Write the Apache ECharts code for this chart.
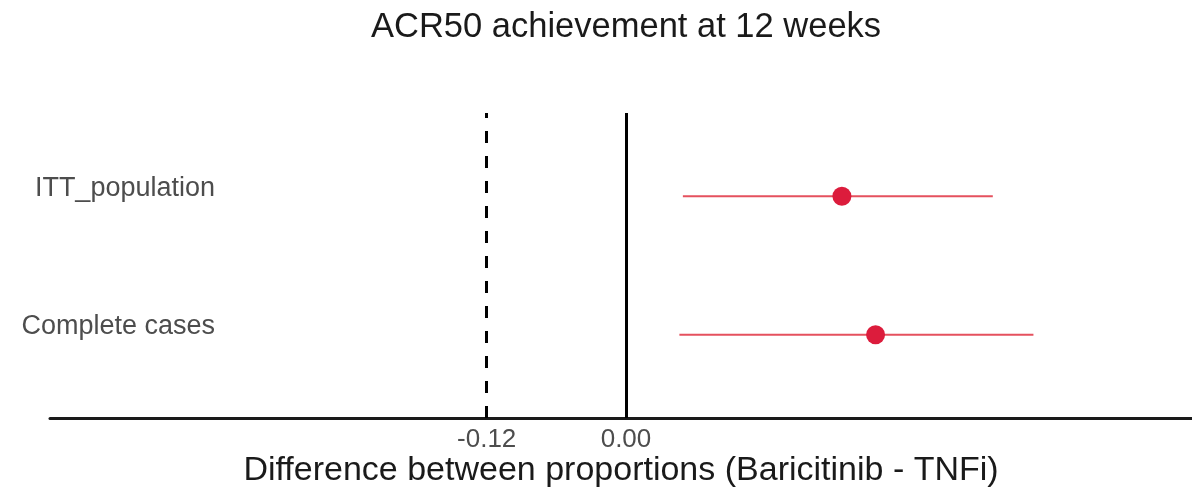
<!DOCTYPE html>
<html>
<head>
<meta charset="utf-8">
<script src="https://cdn.jsdelivr.net/npm/echarts@6/dist/echarts.min.js"></script>
<style>html,body{margin:0;padding:0;background:#fff}#c{width:1192px;height:489px}</style>
</head>
<body>
<div id="c"></div>
<script>
const categories = ['Complete cases', 'ITT_population'];
const estimate = [0.215, 0.186];
const lower = [0.046, 0.049];
const upper = [0.351, 0.316];
const xTicks = [-0.12, 0.00];
const refDashed = -0.12;
const refSolid = 0;

const chart = echarts.init(document.getElementById('c'));
const font = 'Liberation Sans, Arial, sans-serif';
chart.setOption({
  animation: false,
  title: {
    text: 'ACR50 achievement at 12 weeks',
    left: 371, top: 10, padding: 0,
    textStyle: { fontFamily: font, fontSize: 34.5, fontWeight: 'normal', color: '#1a1a1a' }
  },
  grid: { left: 50, right: 0, top: 113, bottom: 71, containLabel: false, outerBoundsMode: 'none' },
  xAxis: {
    type: 'value', min: -0.4962, max: 0.4876,
    name: 'Difference between proportions (Baricitinib - TNFi)',
    nameLocation: 'middle', nameGap: 53, nameMoveOverlap: false,
    nameTextStyle: { fontFamily: font, fontSize: 34, color: '#1a1a1a', verticalAlign: 'middle' },
    axisLine: { show: true, lineStyle: { color: '#1a1a1a', width: 3 } },
    axisTick: { show: false },
    splitLine: { show: false },
    axisLabel: {
      customValues: xTicks, margin: 9,
      formatter: v => v.toFixed(2),
      fontFamily: font, fontSize: 26, color: '#4d4d4d'
    }
  },
  yAxis: {
    type: 'value', min: 0.4, max: 2.6,
    axisLine: { show: false }, axisTick: { show: false }, splitLine: { show: false },
    offset: -165,
    axisLabel: {
      customValues: [1, 2], margin: 0,
      formatter: v => categories[Math.round(v) - 1],
      fontFamily: font, fontSize: 27, color: '#4d4d4d',
      verticalAlign: 'bottom', lineHeight: 16
    }
  },
  series: [
    {
      type: 'custom',
      data: categories.map((c, i) => [lower[i], upper[i], i + 1]),
      renderItem: (params, api) => {
        const a = api.coord([api.value(0), api.value(2)]);
        const b = api.coord([api.value(1), api.value(2)]);
        return { type: 'line', shape: { x1: a[0], y1: a[1], x2: b[0], y2: b[1] },
          style: { stroke: '#e5515e', lineWidth: 2 } };
      },
      encode: { x: [0, 1], y: 2 },
      markLine: {
        silent: true, symbol: 'none', label: { show: false },
        data: [
          { xAxis: refDashed, lineStyle: { type: [12, 13], width: 3, color: '#000' } },
          { xAxis: refSolid, lineStyle: { type: 'solid', width: 3, color: '#000' } }
        ]
      }
    },
    {
      type: 'scatter',
      data: categories.map((c, i) => [estimate[i], i + 1]),
      symbolSize: 19,
      itemStyle: { color: '#dc1c3c', opacity: 1 }
    }
  ]
});
</script>
</body>
</html>
